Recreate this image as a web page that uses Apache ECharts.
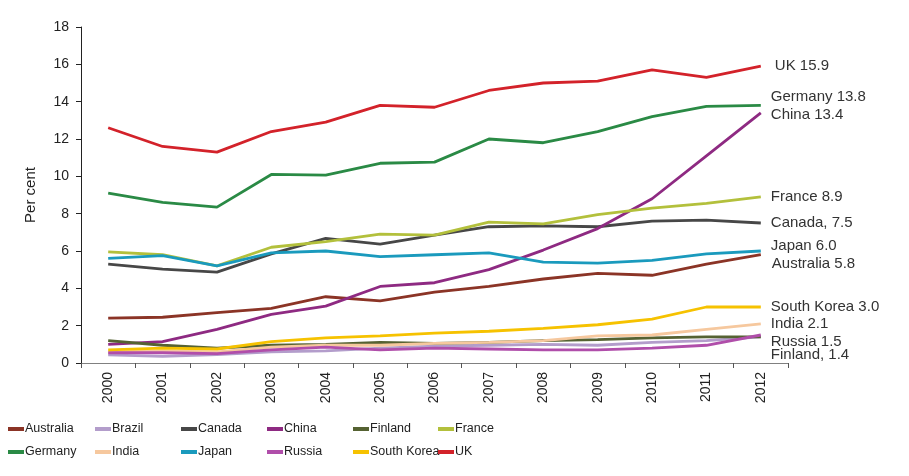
<!DOCTYPE html>
<html><head><meta charset="utf-8">
<script src="https://cdn.jsdelivr.net/npm/echarts@6/dist/echarts.min.js"></script>
<style>html,body{margin:0;padding:0;background:#fff}#c{width:909px;height:476px}</style>
</head><body><div id="c"></div>
<script>
var years = ['2000','2001','2002','2003','2004','2005','2006','2007','2008','2009','2010','2011','2012'];
var australia = [2.4,2.45,2.7,2.93,3.55,3.33,3.8,4.1,4.5,4.8,4.7,5.3,5.8];
var brazil = [0.43,0.35,0.45,0.6,0.65,0.8,0.9,0.95,1.0,0.95,1.1,1.2,1.4];
var canada = [5.3,5.03,4.87,5.85,6.68,6.37,6.85,7.3,7.35,7.3,7.6,7.65,7.5];
var china = [1.0,1.15,1.8,2.6,3.05,4.1,4.3,5.0,6.05,7.2,8.8,11.1,13.4];
var finland = [1.2,0.95,0.8,0.95,1.0,1.1,1.05,1.1,1.2,1.25,1.35,1.4,1.4];
var france = [5.95,5.8,5.2,6.2,6.5,6.9,6.85,7.55,7.45,7.95,8.3,8.55,8.9];
var germany = [9.1,8.6,8.35,10.1,10.07,10.7,10.76,12.0,11.8,12.4,13.2,13.75,13.8];
var india = [0.6,0.65,0.6,0.85,0.95,0.95,1.05,1.1,1.2,1.45,1.5,1.8,2.1];
var japan = [5.6,5.75,5.2,5.9,6.0,5.7,5.8,5.9,5.4,5.35,5.5,5.85,6.0];
var russia = [0.55,0.55,0.5,0.7,0.85,0.7,0.8,0.75,0.7,0.7,0.8,0.95,1.5];
var southKorea = [0.7,0.8,0.75,1.15,1.35,1.45,1.6,1.7,1.85,2.05,2.35,3.0,3.0];
var uk = [12.6,11.6,11.3,12.4,12.9,13.8,13.7,14.6,15.0,15.1,15.7,15.3,15.9];
var yTicks = [0,2,4,6,8,10,12,14,16,18];

var FONT = 'Liberation Sans, Arial, sans-serif';
var defs = [
  {name:'Australia', data:australia, color:'#8B3426', label:'Australia 5.8', off:[1,9]},
  {name:'Brazil', data:brazil, color:'#B39DCB', label:null},
  {name:'Canada', data:canada, color:'#474747', label:'Canada, 7.5', off:[0,0]},
  {name:'China', data:china, color:'#8E2A82', label:'China 13.4', off:[0,2]},
  {name:'Finland', data:finland, color:'#556232', label:'Finland, 1.4', off:[0,18]},
  {name:'France', data:france, color:'#B3C03C', label:'France 8.9', off:[0,0]},
  {name:'Germany', data:germany, color:'#2A8A45', label:'Germany 13.8', off:[0,-9]},
  {name:'India', data:india, color:'#F6C89E', label:'India 2.1', off:[0,0]},
  {name:'Japan', data:japan, color:'#1A9ABD', label:'Japan 6.0', off:[0,-5]},
  {name:'Russia', data:russia, color:'#B04EAA', label:'Russia 1.5', off:[0,7]},
  {name:'South Korea', data:southKorea, color:'#F6C200', label:'South Korea 3.0', off:[0,0]},
  {name:'UK', data:uk, color:'#D3222A', label:'UK 15.9', off:[4,0]}
];

var series = defs.map(function(d){
  return {
    name:d.name, type:'line', data:d.data, symbol:'none', smooth:false,
    lineStyle:{width:2.8, color:d.color}, itemStyle:{color:d.color},
    z: d.name==='UK'||d.name==='Germany'?3:2,
    endLabel: d.label ? {show:true, formatter:d.label, offset:d.off, distance:10,
      color:'#333', fontFamily:FONT, fontSize:15} : {show:false},
    emphasis:{disabled:true}, animation:false
  };
});

var cols = [['Australia','Germany'],['Brazil','India'],['Canada','Japan'],['China','Russia'],['Finland','South Korea'],['France','UK']];
var colX = [8,95,181,267,353,438];
var legends = cols.map(function(c,i){
  return {data:c, orient:'vertical', left:colX[i], top:421, itemGap:7,
    icon:'rect', itemWidth:16, itemHeight:4, selectedMode:false, padding:0,
    textStyle:{fontFamily:FONT, fontSize:12.5, lineHeight:16, color:'#222', padding:[0,0,0,-4]}};
});

var chart = echarts.init(document.getElementById('c'), null, {renderer:'canvas'});
chart.setOption({
  animation:false,
  color: defs.map(function(d){return d.color;}),
  grid:{left:81, right:121, top:27, bottom:113, containLabel:false},
  legend: legends,
  xAxis:{type:'category', data:years, boundaryGap:true,
    axisLine:{lineStyle:{color:'#808080', width:1.2}},
    axisTick:{show:true, length:5, lineStyle:{color:'#555'}, alignWithLabel:false},
    axisLabel:{rotate:90, fontSize:14, color:'#222', fontFamily:FONT, margin:9, interval:0}
  },
  yAxis:{type:'value', min:0, max:18, interval:2,
    name:'Per cent', nameLocation:'middle', nameGap:43, nameRotate:90,
    nameTextStyle:{fontSize:15, color:'#222', fontFamily:FONT},
    axisLine:{show:true, lineStyle:{color:'#222', width:1}},
    axisTick:{show:true, length:5, inside:false, lineStyle:{color:'#222'}},
    splitLine:{show:false},
    axisLabel:{fontSize:14, color:'#222', fontFamily:FONT, margin:12,
      formatter:function(v){return yTicks.indexOf(v)>=0?String(v):'';}}
  },
  series: series
});
</script></body></html>
